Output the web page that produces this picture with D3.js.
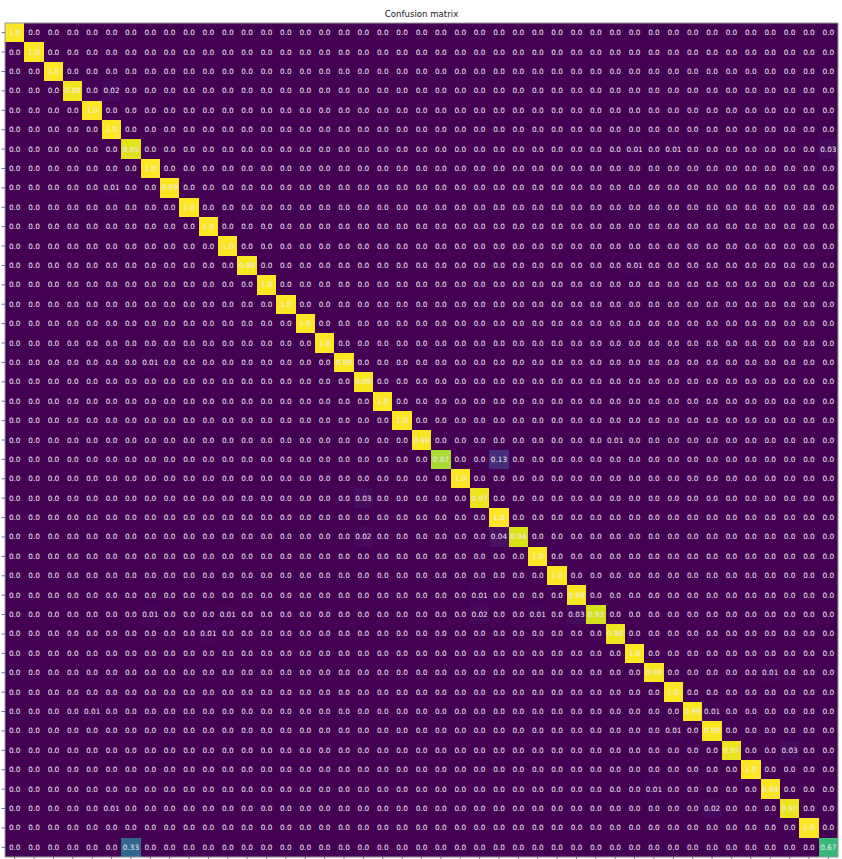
<!DOCTYPE html>
<html>
<head>
<meta charset="utf-8">
<script src="https://cdn.jsdelivr.net/npm/d3@7"></script>
<style>
  html, body { margin: 0; padding: 0; background: #ffffff; }
  svg { display: block; }
</style>
</head>
<body>
<svg id="chart" width="842" height="859"></svg>
<script>
(function () {
// ---- Data ----
const classes = d3.range(43).map(String); // class labels 0..42
const titleText = "Confusion matrix";

// Diagonal (correct prediction rate) per class
const diagonalValues = [
  1.0, 1.0, 1.0, 0.98, 1.0, 1.0, 0.95, 1.0, 0.99, 1.0,
  1.0, 1.0, 0.99, 1.0, 1.0, 1.0, 1.0, 0.99, 0.99, 1.0,
  1.0, 0.99, 0.87, 1.0, 0.97, 1.0, 0.94, 1.0, 1.0, 0.99,
  0.93, 0.98, 1.0, 0.99, 1.0, 0.99, 0.99, 0.97, 1.0, 0.99,
  0.97, 1.0, 0.67
];

// Off-diagonal non-zero cells: true row, predicted column, value
const offRows = [3, 6, 6, 6, 8, 12, 17, 21, 22, 24, 26, 26, 29, 30, 30, 30, 30, 30, 31, 33, 35, 35, 36, 37, 39, 40, 40, 42];
const offCols = [5, 32, 34, 42, 5, 32, 7, 31, 25, 18, 18, 25, 24, 7, 11, 24, 27, 29, 10, 39, 4, 36, 34, 40, 33, 5, 36, 6];
const offVals = [0.02, 0.01, 0.01, 0.03, 0.01, 0.01, 0.01, 0.01, 0.13, 0.03, 0.02, 0.04, 0.01, 0.01, 0.01, 0.02, 0.01, 0.03, 0.01, 0.01, 0.01, 0.01, 0.01, 0.03, 0.01, 0.01, 0.02, 0.33];

// ---- Build matrix table ----
const matrix = classes.map(() => classes.map(() => 0));
diagonalValues.forEach((v, i) => { matrix[i][i] = v; });
offRows.forEach((r, k) => { matrix[r][offCols[k]] = offVals[k]; });
const cells = [];
matrix.forEach((row, i) => row.forEach((v, j) => cells.push({ r: i, c: j, v })));

// ---- Layout ----
const svg = d3.select("#chart");
const mLeft = 5, mRight = 838, mTop = 23, mBottom = 857;

const x = d3.scaleBand().domain(classes).range([mLeft, mRight]).padding(0);
const y = d3.scaleBand().domain(classes).range([mTop, mBottom]).padding(0);
const color = d3.scaleSequential(d3.interpolateViridis).domain([0, 1]);

const fmt = v => (Math.round(v * 100) % 100 === 0) ? v.toFixed(1) : String(v);

// Background (value 0 colour) to avoid seams
svg.append("rect")
  .attr("x", mLeft).attr("y", mTop)
  .attr("width", mRight - mLeft).attr("height", mBottom - mTop)
  .attr("fill", color(0));

// Cells
svg.append("g")
  .attr("shape-rendering", "crispEdges")
  .selectAll("rect")
  .data(cells.filter(d => d.v > 0))
  .join("rect")
  .attr("x", d => x(classes[d.c]))
  .attr("y", d => y(classes[d.r]))
  .attr("width", x.bandwidth())
  .attr("height", y.bandwidth())
  .attr("fill", d => color(d.v));

// Cell text
svg.append("g")
  .selectAll("text")
  .data(cells)
  .join("text")
  .attr("x", d => x(classes[d.c]) + x.bandwidth() / 2)
  .attr("y", d => y(classes[d.r]) + y.bandwidth() / 2)
  .attr("text-anchor", "middle")
  .attr("dominant-baseline", "central")
  .attr("font-family", "DejaVu Sans, sans-serif")
  .attr("font-size", "7.3px")
  .attr("fill", "#f2ecf4")
  .text(d => fmt(d.v));

// Frame
svg.append("rect")
  .attr("x", mLeft).attr("y", mTop)
  .attr("width", mRight - mLeft).attr("height", mBottom - mTop)
  .attr("fill", "none")
  .attr("stroke", "#9a9a9a")
  .attr("stroke-width", 1);

// Axes (tick marks only)
const yAxis = d3.axisLeft(y).tickSize(3.5).tickFormat("");
const xAxis = d3.axisBottom(x).tickSize(3.5).tickFormat("");
const gy = svg.append("g").attr("transform", `translate(${mLeft},0)`).call(yAxis);
const gx = svg.append("g").attr("transform", `translate(0,${mBottom})`).call(xAxis);
[gx, gy].forEach(g => {
  g.select(".domain").remove();
  g.selectAll(".tick line").attr("stroke", "#555").attr("stroke-width", 0.8);
});

// Title
svg.append("text")
  .attr("x", (mLeft + mRight) / 2)
  .attr("y", 17)
  .attr("text-anchor", "middle")
  .attr("font-family", "DejaVu Sans, sans-serif")
  .attr("font-size", "8.6px")
  .attr("fill", "#222")
  .text(titleText);
})();
</script>
</body>
</html>
